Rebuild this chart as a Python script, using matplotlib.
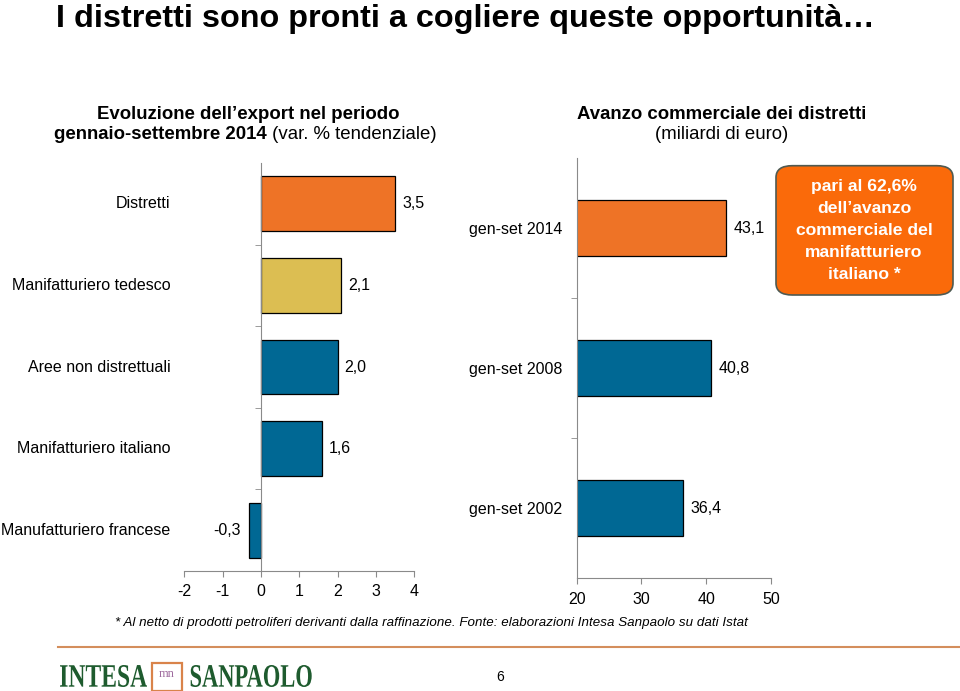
import numpy as np
import matplotlib
matplotlib.use("Agg")
import matplotlib.pyplot as plt
import matplotlib.transforms as mtransforms
from matplotlib.textpath import TextPath
from matplotlib.patches import PathPatch, FancyBboxPatch, Rectangle
from matplotlib.font_manager import FontProperties
from matplotlib.lines import Line2D

plt.rcParams['font.family'] = ['Liberation Sans', 'DejaVu Sans']

# Left chart: export growth Jan-Sep 2014 (% yoy)
export_cats = ['Distretti', 'Manifatturiero tedesco', 'Aree non distrettuali',
               'Manifatturiero italiano', 'Manufatturiero francese']
export_vals = [3.5, 2.1, 2.0, 1.6, -0.3]
export_cols = ['#EE7326', '#DCBE52', '#006894', '#006894', '#006894']

# Right chart: trade surplus of districts (bn euro)
surplus_cats = ['gen-set 2014', 'gen-set 2008', 'gen-set 2002']
surplus_vals = [43.1, 40.8, 36.4]
surplus_cols = ['#EE7326', '#006894', '#006894']

export_ticks = [-2, -1, 0, 1, 2, 3, 4]
surplus_ticks = [20, 30, 40, 50]

W, H = 960, 691
GREY = '#8a8a8a'


def fx(px):
    return px / W


def fy(py):
    return 1 - py / H


def comma(v):
    return ('%.1f' % v).replace('.', ',')


fig = plt.figure(figsize=(9.6, 6.91), dpi=100)

# ---------- left chart ----------
ax1 = fig.add_axes([fx(184.3), fy(571), 230 / W, 408 / H])
ypos = np.arange(len(export_cats))[::-1]
ax1.barh(ypos, export_vals, height=0.67, color=export_cols, edgecolor='black', linewidth=0.9)
ax1.set_xlim(-2, 4)
ax1.set_ylim(-0.5, len(export_cats) - 0.5)
ax1.set_xticks(export_ticks)
ax1.set_xticklabels([str(t) for t in export_ticks])
ax1.spines['top'].set_visible(False)
ax1.spines['right'].set_visible(False)
ax1.spines['left'].set_position(('data', 0))
for s in ('left', 'bottom'):
    ax1.spines[s].set_color(GREY)
ax1.set_yticks([])
ax1.set_yticks(np.arange(len(export_cats) - 1) + 0.5, minor=True)
ax1.tick_params(axis='y', which='minor', length=4, color=GREY, direction='out')
ax1.tick_params(axis='x', length=4, color=GREY, labelsize=11.5, pad=5)
for y, c in zip(ypos, export_cats):
    ax1.text(-14 / 230, y, c, transform=ax1.get_yaxis_transform(), ha='right', va='center', fontsize=11.5)
for y, v in zip(ypos, export_vals):
    off = 5 if v >= 0 else -6
    ax1.annotate(comma(v), (v, y), xytext=(off, 0), textcoords='offset points',
                 ha='left' if v >= 0 else 'right', va='center', fontsize=11.5)

# ---------- right chart ----------
ax2 = fig.add_axes([fx(576.7), fy(578.3), 194.3 / W, 420 / H])
ypos2 = np.arange(len(surplus_cats))[::-1]
ax2.barh(ypos2, surplus_vals, height=0.4, color=surplus_cols, edgecolor='black', linewidth=0.9)
ax2.set_xlim(20, 50)
ax2.set_ylim(-0.5, len(surplus_cats) - 0.5)
ax2.set_xticks(surplus_ticks)
ax2.set_xticklabels([str(t) for t in surplus_ticks])
ax2.set_yticks(ypos2)
ax2.set_yticklabels(surplus_cats)
ax2.set_yticks(np.arange(len(surplus_cats) - 1) + 0.5, minor=True)
ax2.spines['top'].set_visible(False)
ax2.spines['right'].set_visible(False)
for s in ('left', 'bottom'):
    ax2.spines[s].set_color(GREY)
ax2.tick_params(axis='y', which='major', length=0, pad=10.5, labelsize=11.5)
ax2.tick_params(axis='y', which='minor', length=4, color=GREY, direction='out')
ax2.tick_params(axis='x', length=4, color=GREY, labelsize=11.5, pad=6)
for y, v in zip(ypos2, surplus_vals):
    ax2.annotate(comma(v), (v, y), xytext=(5.5, 0), textcoords='offset points',
                 ha='left', va='center', fontsize=11.5)

# callout box
box = FancyBboxPatch((fx(776), fy(295)), fx(953) - fx(776), fy(165.7) - fy(295),
                     boxstyle='round,pad=0,rounding_size=0.017', transform=fig.transFigure,
                     fc='#FA6A0A', ec='#4f5a52', lw=1.2)
fig.add_artist(box)
fig.text(fx(864), fy(230.5), 'pari al 62,6%\ndell\u2019avanzo\ncommerciale del\nmanifatturiero\nitaliano *',
         ha='center', va='center', color='white', fontsize=12.6, fontweight='bold', linespacing=1.58)

# ---------- titles ----------
fig.text(fx(56), fy(27), 'I distretti sono pronti a cogliere queste opportunit\u00e0\u2026',
         fontsize=23.3, fontweight='bold', va='baseline')
fig.text(fx(248), fy(119), 'Evoluzione dell\u2019export nel periodo', ha='center', va='baseline',
         fontsize=13.4, fontweight='bold')
t1 = fig.text(fx(54), fy(139.3), 'gennaio-settembre 2014', ha='left', va='baseline',
              fontsize=13.4, fontweight='bold')
fig.canvas.draw()
x_end = t1.get_window_extent().x1 / fig.bbox.width
fig.text(x_end, fy(139.3), ' (var. % tendenziale)', ha='left', va='baseline', fontsize=13.4)
fig.text(fx(721.5), fy(119), 'Avanzo commerciale dei distretti', ha='center', va='baseline',
         fontsize=13.4, fontweight='bold')
fig.text(fx(721.5), fy(139.3), '(miliardi di euro)', ha='center', va='baseline', fontsize=13.4)

# footnote
fig.text(fx(115), fy(626), '* Al netto di prodotti petroliferi derivanti dalla raffinazione. '
         'Fonte: elaborazioni Intesa Sanpaolo su dati Istat', fontsize=9.6, style='italic', va='baseline')

# ---------- footer ----------
fig.add_artist(Line2D([fx(58), 1], [fy(647.3), fy(647.3)], transform=fig.transFigure,
                      color='#D48E5C', lw=1.5))
fig.text(fx(500), fy(677), '6', ha='center', va='center', fontsize=10)

GREEN = '#1E5B2E'


def logo_word(s, x0, x1, ytop, ybot):
    tp = TextPath((0, 0), s, size=100, prop=FontProperties(family='Liberation Serif', weight='bold'))
    ext = tp.get_extents()
    sx = (x1 - x0) / ext.width
    sy = (ybot - ytop) / ext.height
    tr = (mtransforms.Affine2D().translate(-ext.x0, -ext.y0).scale(sx / 100, sy / 100)
          .translate(x0 / 100, (H - ybot) / 100) + fig.dpi_scale_trans)
    fig.add_artist(PathPatch(tp, transform=tr, fc=GREEN, ec='none'))


logo_word('INTESA', 60, 147, 665, 687)
logo_word('SANPAOLO', 190.7, 311.7, 665, 687)
fig.add_artist(Rectangle((fx(152), fy(691)), fx(182) - fx(152), fy(663) - fy(691),
                         transform=fig.transFigure, fc='white', ec='#D9834A', lw=1.6))
fig.text(fx(167), fy(674), 'mn', ha='center', va='center', fontsize=9, color='#9E6B9E',
         family='Liberation Serif')

fig.savefig('out.png', dpi=100)
